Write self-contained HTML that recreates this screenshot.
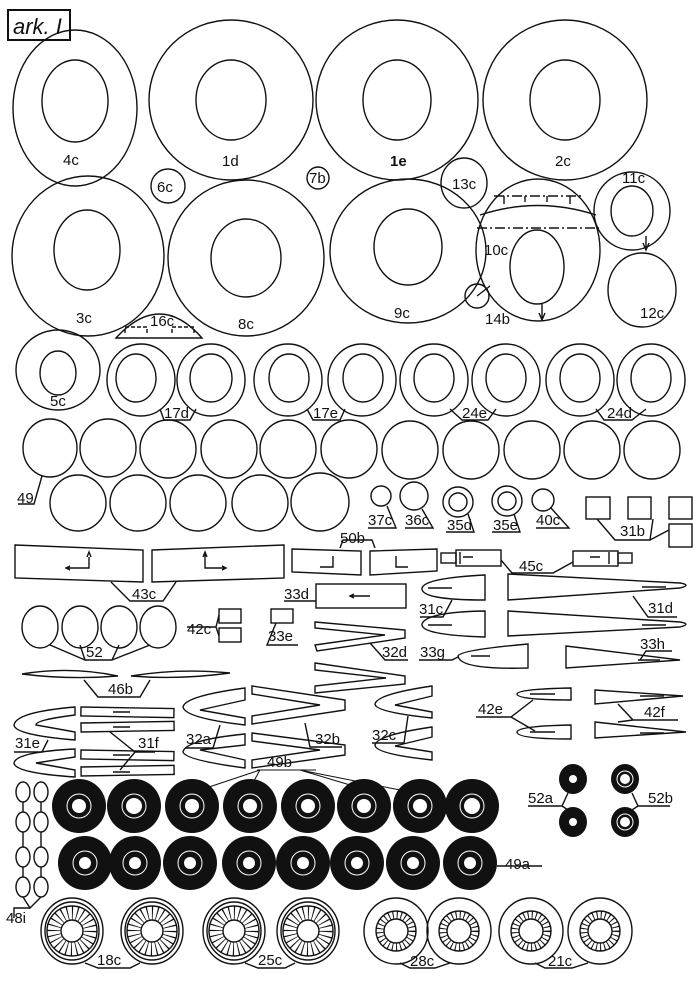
<!DOCTYPE html>
<html><head><meta charset="utf-8"><style>
html,body{margin:0;padding:0;background:#fff}
svg{display:block}
text{font-family:"Liberation Sans",sans-serif;font-size:15px;fill:#111}
</style></head><body>
<svg width="700" height="981" viewBox="0 0 700 981" xmlns="http://www.w3.org/2000/svg" fill="none" stroke="#111" stroke-width="1.4">
<!-- title -->
<rect x="8" y="10" width="62" height="30" stroke-width="2"/>
<text x="13" y="34" stroke="none" style="font-size:22px;font-style:italic">ark. I</text>

<!-- top row -->
<ellipse cx="75" cy="108" rx="62" ry="78"/><ellipse cx="75" cy="101" rx="33" ry="41"/>
<text x="63" y="165" stroke="none">4c</text>
<ellipse cx="231" cy="100" rx="82" ry="80"/><ellipse cx="231" cy="100" rx="35" ry="40"/>
<text x="222" y="166" stroke="none">1d</text>
<ellipse cx="397" cy="100" rx="81" ry="80"/><ellipse cx="397" cy="100" rx="34" ry="40"/>
<text x="390" y="166" stroke="none" font-weight="bold">1e</text>
<ellipse cx="565" cy="100" rx="82" ry="80"/><ellipse cx="565" cy="100" rx="35" ry="40"/>
<text x="555" y="166" stroke="none">2c</text>
<circle cx="168" cy="186" r="17"/><text x="157" y="192" stroke="none">6c</text>
<circle cx="318" cy="178" r="11"/><text x="309" y="183" stroke="none">7b</text>
<ellipse cx="464" cy="183" rx="23" ry="25"/><text x="452" y="189" stroke="none">13c</text>

<!-- second row -->
<ellipse cx="88" cy="256" rx="76" ry="80"/><ellipse cx="87" cy="250" rx="33" ry="40"/>
<text x="76" y="323" stroke="none">3c</text>
<ellipse cx="246" cy="258" rx="78" ry="78"/><ellipse cx="246" cy="258" rx="35" ry="39"/>
<text x="238" y="329" stroke="none">8c</text>
<ellipse cx="408" cy="251" rx="78" ry="72"/><ellipse cx="408" cy="247" rx="34" ry="38"/>
<text x="394" y="318" stroke="none">9c</text>
<!-- 10c -->
<ellipse cx="538" cy="250" rx="62" ry="71"/>
<path d="M494 196 H582" stroke-dasharray="10 3 2 3"/>
<path d="M480 215 Q538 196 596 215"/>
<path d="M504 196v8M525 196v6M547 196v6M570 196v8"/>
<path d="M477 228 H599" stroke-dasharray="10 3 2 3"/>
<ellipse cx="537" cy="267" rx="27" ry="37"/>
<path d="M542 304 V320M539 313l3 7 3-7"/>
<text x="484" y="255" stroke="none">10c</text>
<circle cx="477" cy="296" r="12"/><path d="M477 296 L490 286"/>
<text x="485" y="324" stroke="none">14b</text>
<!-- 11c 12c -->
<ellipse cx="632" cy="211" rx="38" ry="39"/><ellipse cx="632" cy="211" rx="21" ry="25"/>
<path d="M646 236 V250M643 243l3 7 3-7"/>
<text x="622" y="183" stroke="none">11c</text>
<ellipse cx="642" cy="290" rx="34" ry="37"/><text x="640" y="318" stroke="none">12c</text>
<!-- 16c -->
<path d="M116 338 Q160 290 202 338 Z"/>
<path d="M125 333v-6h22v6M172 333v-6h22v6" stroke-dasharray="4 2"/>
<text x="150" y="326" stroke="none">16c</text>

<!-- row 5c / 17d.. -->
<ellipse cx="58" cy="370" rx="42" ry="40"/><ellipse cx="58" cy="373" rx="18" ry="22"/>
<text x="50" y="406" stroke="none">5c</text>
<g>
<ellipse cx="141" cy="380" rx="34" ry="36"/><ellipse cx="136" cy="378" rx="20" ry="24"/>
<ellipse cx="211" cy="380" rx="34" ry="36"/><ellipse cx="211" cy="378" rx="21" ry="24"/>
<ellipse cx="288" cy="380" rx="34" ry="36"/><ellipse cx="289" cy="378" rx="20" ry="24"/>
<ellipse cx="362" cy="380" rx="34" ry="36"/><ellipse cx="363" cy="378" rx="20" ry="24"/>
<ellipse cx="434" cy="380" rx="34" ry="36"/><ellipse cx="434" cy="378" rx="20" ry="24"/>
<ellipse cx="506" cy="380" rx="34" ry="36"/><ellipse cx="506" cy="378" rx="20" ry="24"/>
<ellipse cx="580" cy="380" rx="34" ry="36"/><ellipse cx="580" cy="378" rx="20" ry="24"/>
<ellipse cx="651" cy="380" rx="34" ry="36"/><ellipse cx="651" cy="378" rx="20" ry="24"/>
</g>
<path d="M160 409 L164 420 H190 L196 409"/><text x="164" y="418" stroke="none">17d</text>
<path d="M307 409 L313 420 H340 L345 409"/><text x="313" y="418" stroke="none">17e</text>
<path d="M450 409 L462 420 H488 L496 409"/><text x="462" y="418" stroke="none">24e</text>
<path d="M596 409 L604 420 H632 L646 409"/><text x="607" y="418" stroke="none">24d</text>

<!-- 49 -->
<g>
<ellipse cx="50" cy="448" rx="27" ry="29"/><ellipse cx="108" cy="448" rx="28" ry="29"/>
<ellipse cx="168" cy="449" rx="28" ry="29"/><ellipse cx="229" cy="449" rx="28" ry="29"/>
<ellipse cx="288" cy="449" rx="28" ry="29"/><ellipse cx="349" cy="449" rx="28" ry="29"/>
<ellipse cx="410" cy="450" rx="28" ry="29"/><ellipse cx="471" cy="450" rx="28" ry="29"/>
<ellipse cx="532" cy="450" rx="28" ry="29"/><ellipse cx="592" cy="450" rx="28" ry="29"/>
<ellipse cx="652" cy="450" rx="28" ry="29"/>
<ellipse cx="78" cy="503" rx="28" ry="28"/><ellipse cx="138" cy="503" rx="28" ry="28"/>
<ellipse cx="198" cy="503" rx="28" ry="28"/><ellipse cx="260" cy="503" rx="28" ry="28"/>
<ellipse cx="320" cy="502" rx="29" ry="29"/>
</g>
<path d="M42 476 L34 504 H18"/><text x="17" y="503" stroke="none">49</text>
<!-- small parts -->
<circle cx="381" cy="496" r="10"/><circle cx="414" cy="496" r="14"/>
<circle cx="458" cy="502" r="15"/><circle cx="458" cy="502" r="9"/>
<circle cx="507" cy="501" r="15"/><circle cx="507" cy="501" r="9"/>
<circle cx="543" cy="500" r="11"/>
<path d="M387 506 L396 528 H368"/><text x="368" y="525" stroke="none">37c</text>
<path d="M422 509 L433 528 H405"/><text x="405" y="525" stroke="none">36c</text>
<path d="M468 514 L474 532 H446"/><text x="447" y="530" stroke="none">35d</text>
<path d="M514 514 L520 532 H492"/><text x="493" y="530" stroke="none">35e</text>
<path d="M551 508 L569 528 H536"/><text x="536" y="525" stroke="none">40c</text>
<rect x="586" y="497" width="24" height="22"/><rect x="628" y="497" width="23" height="22"/>
<rect x="669" y="497" width="23" height="22"/><rect x="669" y="524" width="23" height="23"/>
<path d="M597 519 L615 540 H650 L653 519M650 540 L669 530"/><text x="620" y="536" stroke="none">31b</text>

<!-- 43c, 50b, 45c -->
<path d="M15 545 L143 550 L143 582 L15 578 Z"/>
<path d="M152 550 L284 545 L284 578 L152 582 Z"/>
<path d="M89 557 V568 H67M87 557l2-5 2 5M70 566l-4 2 4 2" />
<path d="M205 553 V568 H226M203 557l2-5 2 5M222 566l4 2-4 2"/>
<path d="M111 582 L130 601 H163 L176 582"/><text x="132" y="599" stroke="none">43c</text>
<path d="M292 549 L361 551 L361 575 L292 572 Z"/>
<path d="M370 551 L437 549 L437 571 L370 575 Z"/>
<path d="M333 556V567H320M396 556V567H408"/>
<path d="M340 548 L343 540 H372 L375 548"/><text x="340" y="543" stroke="none">50b</text>
<rect x="441" y="553" width="15" height="10"/><rect x="456" y="550" width="45" height="16"/>
<rect x="573" y="551" width="45" height="15"/><rect x="618" y="553" width="14" height="10"/>
<path d="M460 552V564M463 557h10M609 552V564M600 557h-10"/>
<path d="M501 560 L512 573 H553 L573 562"/><text x="519" y="571" stroke="none">45c</text>

<!-- 33d, 31c, 31d -->
<rect x="316" y="584" width="90" height="24"/>
<path d="M350 596 H370M354 594l-4 2 4 2"/>
<path d="M284 601 H316"/><text x="284" y="599" stroke="none">33d</text>
<path d="M485 575 L485 600 Q420 600 422 588 Q425 578 485 575Z"/>
<path d="M485 611 L485 637 Q420 635 422 624 Q426 612 485 611Z"/>
<path d="M428 588 H452M428 625 H452"/>
<path d="M452 600 L443 617 H420"/><text x="419" y="614" stroke="none">31c</text>
<path d="M508 574 L680 583 Q692 585 680 588 L508 600Z"/>
<path d="M508 611 L680 622 Q692 624 680 627 L508 636Z"/>
<path d="M642 587H666M642 625H666"/>
<path d="M633 596 L648 617 H677"/><text x="648" y="613" stroke="none">31d</text>
<!-- 52, 42c, 33e -->
<ellipse cx="40" cy="627" rx="18" ry="21"/><ellipse cx="80" cy="627" rx="18" ry="21"/>
<ellipse cx="119" cy="627" rx="18" ry="21"/><ellipse cx="158" cy="627" rx="18" ry="21"/>
<path d="M50 645 L85 660 L80 645M85 660 H112 L119 645M112 660 L150 645"/>
<text x="86" y="657" stroke="none">52</text>
<rect x="219" y="609" width="22" height="14"/><rect x="219" y="628" width="22" height="14"/>
<path d="M219 615 L216 627 L219 636M216 627 H187"/><text x="187" y="634" stroke="none">42c</text>
<rect x="271" y="609" width="22" height="14"/>
<path d="M276 623 L267 645 H298"/><text x="268" y="641" stroke="none">33e</text>
<!-- 32d -->
<path d="M315 622 L405 630 L405 638 L317 651 L315 645 L385 635 L315 628 Z"/>
<path d="M315 663 L405 676 L405 684 L315 693 L315 686 L386 678 L315 670 Z"/>
<path d="M370 643 L385 660 H408"/><text x="382" y="657" stroke="none">32d</text>
<!-- 33g 33h -->
<path d="M528 644 L528 668 Q460 670 458 656 Q460 650 528 644Z"/>
<path d="M471 656 H490"/><path d="M458 657 L452 660 H419"/><text x="420" y="657" stroke="none">33g</text>
<path d="M566 646 L680 660 L566 668Z"/><path d="M638 660 H660"/>
<path d="M640 660 L646 651 H672"/><text x="640" y="649" stroke="none">33h</text>
<!-- 46b -->
<path d="M22 674 Q70 666 118 676 Q70 680 22 674Z"/>
<path d="M131 676 Q180 668 230 673 Q180 680 131 676Z"/>
<path d="M84 680 L98 697 H140 L150 680"/><text x="108" y="694" stroke="none">46b</text>
<!-- 32a 32b 32c -->
<path d="M245 688 L245 700 L200 710 L245 718 L245 725 Q185 718 183 707 Q185 696 245 688Z"/>
<path d="M245 734 L245 745 L200 750 L245 760 L245 768 Q185 760 183 752 Q185 740 245 734Z"/>
<path d="M252 686 L345 700 L345 710 L252 724 L252 716 L320 705 L252 694Z"/>
<path d="M252 733 L345 745 L345 755 L252 768 L252 760 L320 750 L252 741Z"/>
<path d="M220 725 L213 748 H185M305 723 L310 747 H342"/>
<text x="186" y="744" stroke="none">32a</text><text x="315" y="744" stroke="none">32b</text>
<path d="M432 686 L432 696 L395 705 L432 712 L432 718 Q375 712 375 704 Q377 694 432 686Z"/>
<path d="M432 727 L432 737 L395 746 L432 752 L432 760 Q375 754 375 745 Q377 735 432 727Z"/>
<path d="M408 716 L404 743 H372"/><text x="372" y="740" stroke="none">32c</text>
<!-- 42e 42f -->
<path d="M571 688 L571 700 Q517 700 517 694 Q518 689 571 688Z"/>
<path d="M571 725 L571 739 Q517 739 517 732 Q518 726 571 725Z"/>
<path d="M530 694H555M530 732H555"/>
<path d="M533 700 L511 717 H476M511 717 L535 731"/><text x="478" y="714" stroke="none">42e</text>
<path d="M595 690 L683 696 L595 704Z"/><path d="M595 722 L686 732 L595 738Z"/>
<path d="M640 696H664M640 733H664"/>
<path d="M618 704 L633 720 H678M633 720 L618 722"/><text x="644" y="717" stroke="none">42f</text>
<!-- 31e 31f -->
<path d="M75 707 L75 715 Q35 720 36 725 L75 732 L75 740 Q15 735 14 725 Q16 712 75 707Z"/>
<path d="M75 749 L75 757 L36 763 L75 770 L75 777 Q15 773 14 763 Q16 752 75 749Z"/>
<rect x="81" y="707" width="93" height="9" transform="rotate(1 81 707)"/>
<rect x="81" y="723" width="93" height="9" transform="rotate(-1 81 723)"/>
<rect x="81" y="750" width="93" height="9" transform="rotate(1 81 750)"/>
<rect x="81" y="767" width="93" height="9" transform="rotate(-1 81 767)"/>
<path d="M113 712H130M113 727H130M113 755H130M113 772H130"/>
<path d="M48 740 L42 752 H14M110 732 L135 752 H155M135 752 L120 770"/>
<text x="15" y="748" stroke="none">31e</text><text x="138" y="748" stroke="none">31f</text>

<!-- 49b label -->
<path d="M257 770 H316M260 770 L200 790M260 770 L250 788M300 770 L350 785M300 770 L400 790" stroke-width="1"/>
<text x="267" y="767" stroke="none">49b</text>
<!-- 48i -->
<g>
<ellipse cx="23" cy="792" rx="7" ry="10"/><ellipse cx="41" cy="792" rx="7" ry="10"/>
<ellipse cx="23" cy="822" rx="7" ry="10"/><ellipse cx="41" cy="822" rx="7" ry="10"/>
<ellipse cx="23" cy="857" rx="7" ry="10"/><ellipse cx="41" cy="857" rx="7" ry="10"/>
<ellipse cx="23" cy="887" rx="7" ry="10"/><ellipse cx="41" cy="887" rx="7" ry="10"/>
<path d="M23 802V812M23 832V847M23 867V877M41 802V812M41 832V847M41 867V877M23 897 L30 908 L41 897M30 908 H14V918"/>
</g>
<text x="6" y="923" stroke="none">48i</text>
<!-- black wheels -->
<g fill="#111" stroke="none">
<ellipse cx="79" cy="806" rx="27" ry="27"/><ellipse cx="134" cy="806" rx="27" ry="27"/>
<ellipse cx="192" cy="806" rx="27" ry="27"/><ellipse cx="250" cy="806" rx="27" ry="27"/>
<ellipse cx="308" cy="806" rx="27" ry="27"/><ellipse cx="364" cy="806" rx="27" ry="27"/>
<ellipse cx="420" cy="806" rx="27" ry="27"/><ellipse cx="472" cy="806" rx="27" ry="27"/>
<ellipse cx="85" cy="863" rx="27" ry="27"/><ellipse cx="135" cy="863" rx="26" ry="27"/>
<ellipse cx="190" cy="863" rx="27" ry="27"/><ellipse cx="249" cy="863" rx="27" ry="27"/>
<ellipse cx="303" cy="863" rx="27" ry="27"/><ellipse cx="357" cy="863" rx="27" ry="27"/>
<ellipse cx="413" cy="863" rx="27" ry="27"/><ellipse cx="470" cy="863" rx="27" ry="27"/>
<ellipse cx="573" cy="779" rx="14" ry="15"/><ellipse cx="573" cy="822" rx="14" ry="15"/>
<ellipse cx="625" cy="779" rx="14" ry="15"/><ellipse cx="625" cy="822" rx="14" ry="15"/>
</g>
<g stroke="#fff" stroke-width="1">
<circle cx="79" cy="806" r="12"/><circle cx="134" cy="806" r="12"/><circle cx="192" cy="806" r="12"/><circle cx="250" cy="806" r="12"/>
<circle cx="308" cy="806" r="12"/><circle cx="364" cy="806" r="12"/><circle cx="420" cy="806" r="12"/><circle cx="472" cy="806" r="12"/>
<circle cx="85" cy="863" r="12"/><circle cx="135" cy="863" r="12"/><circle cx="190" cy="863" r="12"/><circle cx="249" cy="863" r="12"/>
<circle cx="303" cy="863" r="12"/><circle cx="357" cy="863" r="12"/><circle cx="413" cy="863" r="12"/><circle cx="470" cy="863" r="12"/>
<circle cx="625" cy="779" r="8"/><circle cx="625" cy="822" r="8"/>
</g>
<g fill="#fff" stroke="none">
<circle cx="79" cy="806" r="7"/><circle cx="134" cy="806" r="8"/><circle cx="192" cy="806" r="7"/><circle cx="250" cy="806" r="7"/>
<circle cx="308" cy="806" r="7"/><circle cx="364" cy="806" r="7"/><circle cx="420" cy="806" r="7"/><circle cx="472" cy="806" r="8"/>
<circle cx="85" cy="863" r="6"/><circle cx="135" cy="863" r="6"/><circle cx="190" cy="863" r="6"/><circle cx="249" cy="863" r="6"/>
<circle cx="303" cy="863" r="6"/><circle cx="357" cy="863" r="6"/><circle cx="413" cy="863" r="6"/><circle cx="470" cy="863" r="6"/>
<circle cx="573" cy="779" r="4"/><circle cx="573" cy="822" r="4"/><circle cx="625" cy="779" r="5"/><circle cx="625" cy="822" r="5"/>
</g>
<path d="M497 866 H542" /><text x="505" y="869" stroke="none">49a</text>
<path d="M568 793 L562 806 H528M562 806 L568 810M632 793 L638 806 H670M638 806 L632 810"/>
<text x="528" y="803" stroke="none">52a</text><text x="648" y="803" stroke="none">52b</text>

<!-- spoked wheels -->
<g>
<ellipse cx="72" cy="931" rx="31" ry="33"/><ellipse cx="72" cy="931" rx="27" ry="29"/>
<ellipse cx="152" cy="931" rx="31" ry="33"/><ellipse cx="152" cy="931" rx="27" ry="29"/>
<ellipse cx="234" cy="931" rx="31" ry="33"/><ellipse cx="234" cy="931" rx="27" ry="29"/>
<ellipse cx="308" cy="931" rx="31" ry="33"/><ellipse cx="308" cy="931" rx="27" ry="29"/>
<g stroke-width="13" stroke-dasharray="1 3.7">
<circle cx="72" cy="931" r="18"/><circle cx="152" cy="931" r="18"/><circle cx="234" cy="931" r="18"/><circle cx="308" cy="931" r="18"/>
</g>
<circle cx="72" cy="931" r="25"/><circle cx="152" cy="931" r="25"/><circle cx="234" cy="931" r="25"/><circle cx="308" cy="931" r="25"/>
<circle cx="72" cy="931" r="11" fill="#fff"/><circle cx="152" cy="931" r="11" fill="#fff"/><circle cx="234" cy="931" r="11" fill="#fff"/><circle cx="308" cy="931" r="11" fill="#fff"/>
<ellipse cx="396" cy="931" rx="32" ry="33"/><ellipse cx="459" cy="931" rx="32" ry="33"/>
<ellipse cx="531" cy="931" rx="32" ry="33"/><ellipse cx="600" cy="931" rx="32" ry="33"/>
<g stroke-width="8" stroke-dasharray="1 3">
<circle cx="396" cy="931" r="16"/><circle cx="459" cy="931" r="16"/><circle cx="531" cy="931" r="16"/><circle cx="600" cy="931" r="16"/>
</g>
<circle cx="396" cy="931" r="20"/><circle cx="459" cy="931" r="20"/><circle cx="531" cy="931" r="20"/><circle cx="600" cy="931" r="20"/>
<circle cx="396" cy="931" r="12"/><circle cx="459" cy="931" r="12"/><circle cx="531" cy="931" r="12"/><circle cx="600" cy="931" r="12"/>
</g>
<path d="M85 963 L98 968 H130 L140 963"/><text x="97" y="965" stroke="none">18c</text>
<path d="M245 963 L258 968 H285 L295 963"/><text x="258" y="965" stroke="none">25c</text>
<path d="M400 963 L410 968 H435 L450 963"/><text x="410" y="966" stroke="none">28c</text>
<path d="M535 963 L545 968 H572 L588 963"/><text x="548" y="966" stroke="none">21c</text>
</svg>
</body></html>
